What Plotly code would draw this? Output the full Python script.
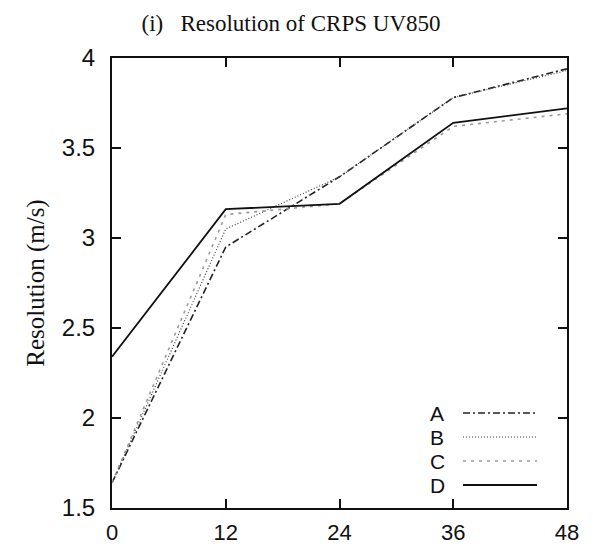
import plotly.graph_objects as go

lead_hours = [0, 12, 24, 36, 48]
series_names = ["A", "B", "C", "D"]
res_A = [1.64, 2.95, 3.34, 3.78, 3.94]
res_B = [1.64, 3.05, 3.34, 3.78, 3.93]
res_C = [1.64, 3.13, 3.19, 3.62, 3.69]
res_D = [2.34, 3.16, 3.19, 3.64, 3.72]
x_ticks = [0, 12, 24, 36, 48]
y_ticks = [1.5, 2, 2.5, 3, 3.5, 4]
y_tick_labels = ["1.5", "2", "2.5", "3", "3.5", "4"]

styles = {
    "A": dict(color="#222222", width=1.6, dash="7px,3px,2px,3px"),
    "B": dict(color="#444444", width=1.2, dash="1px,2px"),
    "C": dict(color="#9a9a9a", width=1.6, dash="3px,5px"),
    "D": dict(color="#111111", width=1.8, dash="solid"),
}
values = {"A": res_A, "B": res_B, "C": res_C, "D": res_D}

# page offset caused by default body margin
OFF = 8
FW, FH = 593 - OFF, 548 - OFF
L, R, T, B = 112 - OFF, 567 - OFF, 58 - OFF, 508 - OFF
PW, PH = R - L, B - T

fig = go.Figure()
for name in series_names:
    fig.add_trace(go.Scatter(x=lead_hours, y=values[name], mode="lines",
                             name=name, line=styles[name], showlegend=False))

# manual gnuplot-style legend: label then sample line
leg_y = [413, 437, 461, 485]
for name, py in zip(series_names, leg_y):
    yy = (B - (py - OFF)) / PH
    fig.add_annotation(xref="paper", yref="paper", x=(437 - OFF - L) / PW, y=yy,
                       text=name, showarrow=False, xanchor="center", yanchor="middle",
                       font=dict(family="Liberation Sans", size=21, color="#111"))
    fig.add_shape(type="line", xref="paper", yref="paper",
                  x0=(463 - OFF - L) / PW, x1=(537 - OFF - L) / PW,
                  y0=yy, y1=yy, line=styles[name])

axis_common = dict(showgrid=False, zeroline=False, showline=True, linecolor="#111",
                   linewidth=2, mirror="ticks", ticks="inside", ticklen=9,
                   tickwidth=1.5, tickcolor="#111", automargin=False)

fig.update_layout(
    width=FW, height=FH,
    margin=dict(l=L, r=FW - R, t=T, b=FH - B),
    paper_bgcolor="white", plot_bgcolor="white",
    title=dict(text="(i)   Resolution of CRPS UV850", x=(291 - OFF) / FW, xanchor="center",
               y=1 - (23 - OFF) / FH, yanchor="middle",
               font=dict(family="Liberation Serif", size=23, color="#111")),
    xaxis=dict(range=[0, 48], tickvals=x_ticks, ticklabelstandoff=4,
               tickfont=dict(family="Liberation Sans", size=22, color="#111"),
               **axis_common),
    yaxis=dict(range=[1.5, 4], tickvals=y_ticks, ticktext=y_tick_labels,
               title=dict(text="Resolution (m/s)", standoff=10,
                          font=dict(family="Liberation Serif", size=25, color="#111")),
               ticklabelstandoff=10,
               tickfont=dict(family="Liberation Sans", size=24, color="#111"),
               **axis_common),
)

fig.write_html("out.html")
